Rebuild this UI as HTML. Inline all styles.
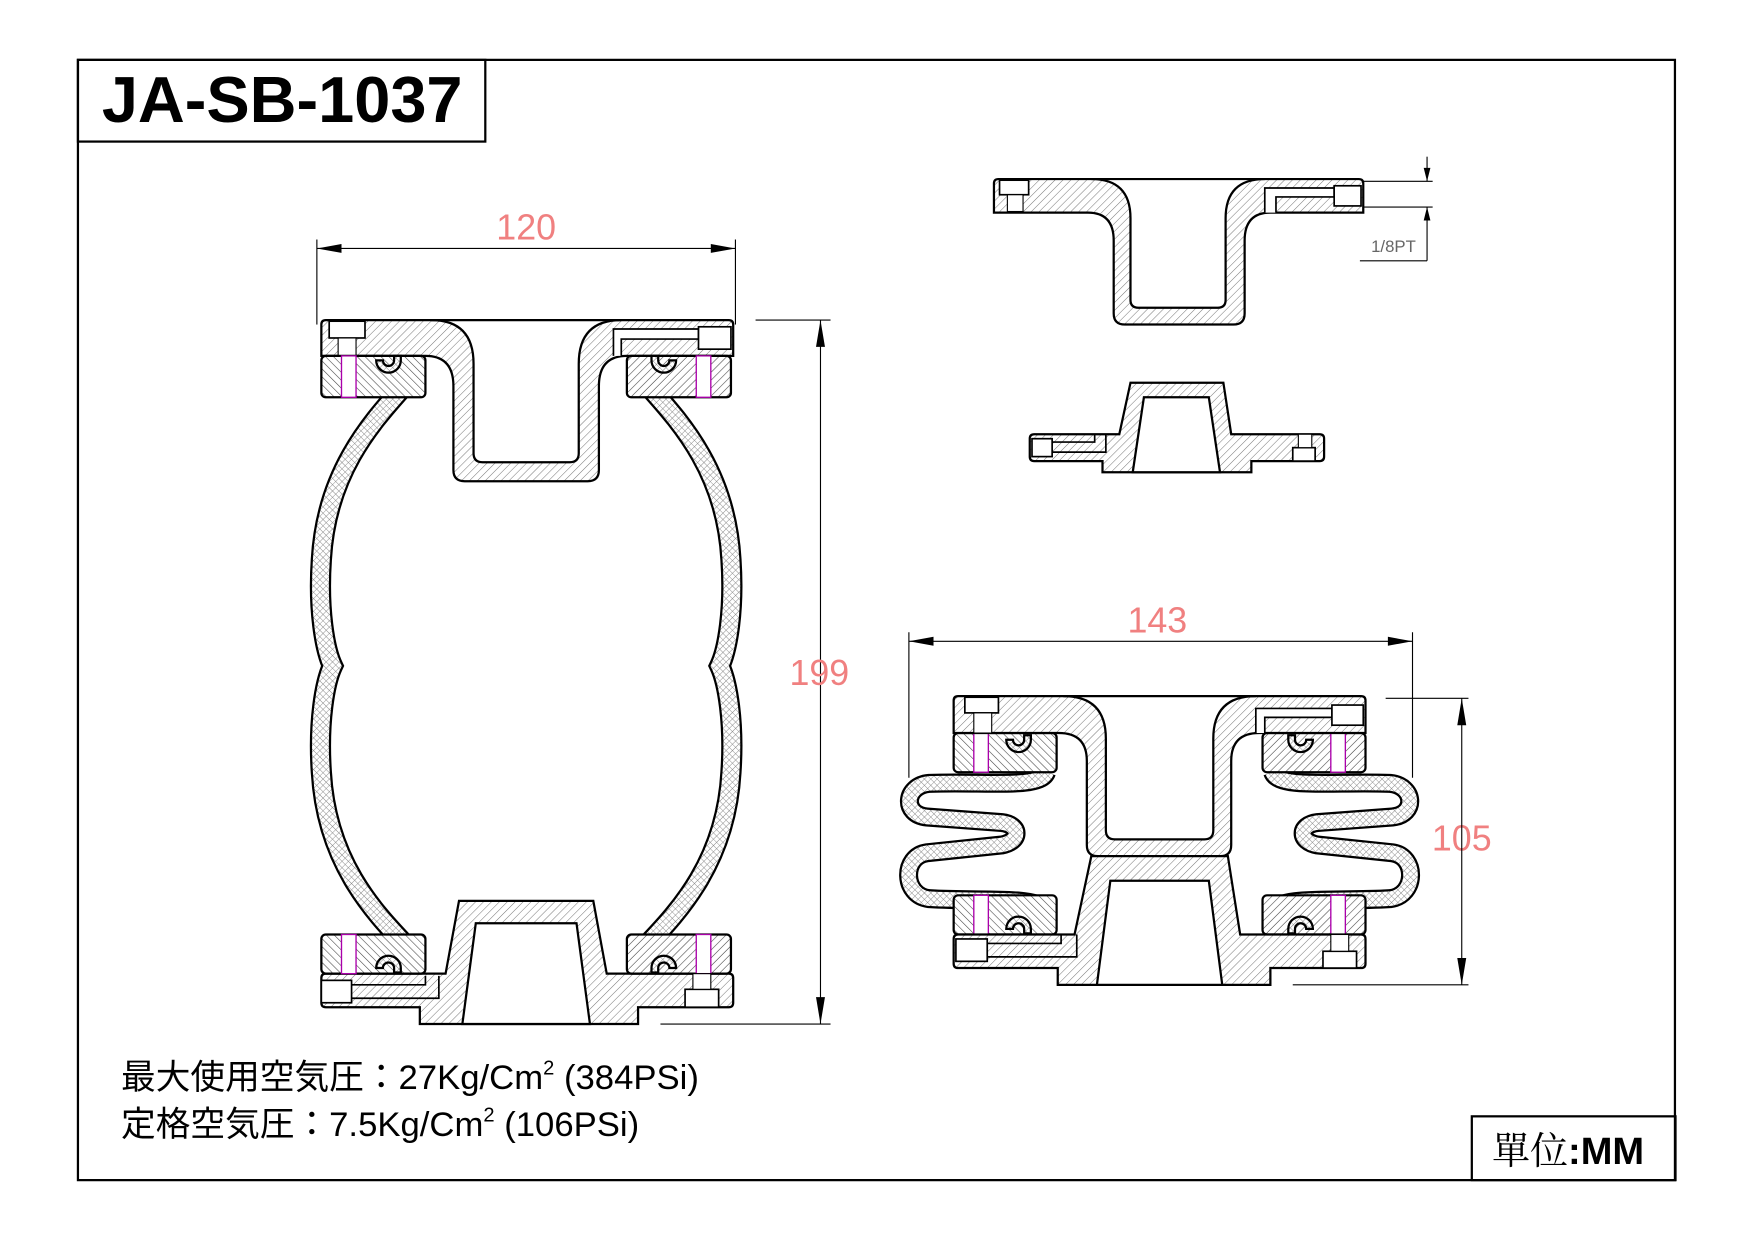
<!DOCTYPE html>
<html><head><meta charset="utf-8"><style>
html,body{margin:0;padding:0;background:#fff;}
svg{display:block;}
</style></head><body>
<svg width="1754" height="1240" viewBox="0 0 1567 1108" xmlns="http://www.w3.org/2000/svg">
<defs>
<pattern id="h" width="5" height="5" patternUnits="userSpaceOnUse" patternTransform="rotate(45)">
<rect width="5" height="5" fill="#fff"/><line x1="0" y1="0" x2="0" y2="5" stroke="#777" stroke-width="0.9"/></pattern>
<pattern id="h2" width="5" height="5" patternUnits="userSpaceOnUse" patternTransform="rotate(-45)">
<rect width="5" height="5" fill="#fff"/><line x1="0" y1="0" x2="0" y2="5" stroke="#444" stroke-width="1"/></pattern>
<pattern id="x" width="4" height="4" patternUnits="userSpaceOnUse" patternTransform="rotate(45)">
<rect width="4" height="4" fill="#fff"/><path d="M0 0V4M0 0H4" stroke="#888" stroke-width="0.8"/></pattern>

<g id="topL">
<rect x="287" y="318" width="93" height="37" rx="4" fill="url(#h2)" stroke="#000" stroke-width="2"/>
<rect x="305" y="318" width="13" height="37" fill="#fff" stroke="#a0a" stroke-width="1.2"/>
<path d="M336,322 a11,11 0 1 0 22,0 l0,-4 l-6,0 l0,4 a5,5 0 1 1 -10,0z" fill="url(#x)" stroke="#000" stroke-width="2"/>
</g>
<g id="botL">
<rect x="287" y="835" width="93" height="35" rx="4" fill="url(#h2)" stroke="#000" stroke-width="2"/>
<rect x="305" y="835" width="13" height="35" fill="#fff" stroke="#a0a" stroke-width="1.2"/>
<path d="M336,865 a11,11 0 1 1 22,0 l0,4 l-6,0 l0,-4 a5,5 0 1 0 -10,0z" fill="url(#x)" stroke="#000" stroke-width="2"/>
</g>
<path id="bellL" d="M372,332 C345,365 292,410 287,500 C284,545 290,580 297,595 C290,610 284,645 287,690 C292,780 345,825 372,855" fill="none"/>
</defs>

<rect x="69.5" y="53.5" width="1427" height="1001" fill="none" stroke="#000" stroke-width="2"/>
<rect x="69.5" y="53.5" width="364" height="73" fill="none" stroke="#000" stroke-width="2"/>
<text x="252" y="109" text-anchor="middle" font-family="Liberation Sans, sans-serif" font-weight="bold" font-size="58">JA-SB-1037</text>
<rect x="1315" y="997.5" width="182" height="57" fill="none" stroke="#000" stroke-width="2"/>
<text x="1333" y="1040" font-family="'Liberation Serif','Noto Serif CJK SC',serif" font-size="34">單位<tspan font-family="Liberation Sans, sans-serif" font-weight="bold">:MM</tspan></text>

<g font-family="'Liberation Sans','Noto Sans CJK JP',sans-serif" font-size="31" fill="#000">
<text x="108" y="973">最大使用空気圧：27Kg/Cm<tspan font-size="18" dy="-13">2</tspan><tspan dy="13"> (384PSi)</tspan></text>
<text x="108" y="1015">定格空気圧：7.5Kg/Cm<tspan font-size="18" dy="-13">2</tspan><tspan dy="13"> (106PSi)</tspan></text>
</g>

<g stroke="#000">
<line x1="283" y1="214" x2="283" y2="290" stroke-width="1"/>
<line x1="657" y1="214" x2="657" y2="290" stroke-width="1"/>
<line x1="283" y1="222" x2="657" y2="222" stroke-width="1"/>
<path d="M283,222 l22,-4 v8z M657,222 l-22,-4 v8z" fill="#000" stroke="none"/>
<line x1="675" y1="286" x2="742" y2="286" stroke-width="1"/>
<line x1="590" y1="915" x2="742" y2="915" stroke-width="1"/>
<line x1="733" y1="286" x2="733" y2="915" stroke-width="1"/>
<path d="M733,286 l-4,24 h8z M733,915 l-4,-24 h8z" fill="#000" stroke="none"/>
</g>
<g font-family="Liberation Sans, sans-serif" font-size="32" fill="#f08080">
<text x="470" y="214" text-anchor="middle">120</text>
<text x="732" y="612" text-anchor="middle">199</text>
<text x="1034" y="565" text-anchor="middle">143</text>
<text x="1306" y="760" text-anchor="middle">105</text>
</g>

<use href="#bellL" stroke="#000" stroke-width="19"/>
<use href="#bellL" stroke="url(#x)" stroke-width="15"/>
<g transform="translate(940,0) scale(-1,1)">
<use href="#bellL" stroke="#000" stroke-width="19"/>
<use href="#bellL" stroke="url(#x)" stroke-width="15"/>
</g>
<path d="M291,286 L385,286 Q423,286 423,325 L423,405 Q423,413 431,413 L509,413 Q517,413 517,405 L517,325 Q517,286 555,286 L651,286 Q655,286 655,290 L655,318 L560,318 Q535,318 535,345 L535,420 Q535,430 525,430 L415,430 Q405,430 405,420 L405,345 Q405,318 380,318 L287,318 L287,290 Q287,286 291,286 Z" fill="url(#h)" stroke="#000" stroke-width="2"/>
<line x1="385" y1="286" x2="555" y2="286" stroke="#000" stroke-width="2"/>
<rect x="294" y="287" width="32" height="15" fill="#fff" stroke="#000" stroke-width="1.5"/>
<rect x="302" y="302" width="16" height="16" fill="#fff" stroke="#000" stroke-width="1"/>
<path d="M548,318 V294 H624 V303 H555 V318" fill="#fff" stroke="#000" stroke-width="1.5"/>
<rect x="624" y="292" width="29" height="20" fill="#fff" stroke="#000" stroke-width="1.5"/>
<use href="#topL"/>
<g transform="translate(940,0) scale(-1,1)"><use href="#topL"/></g>
<path d="M410,805 L530,805 L542,870 L651,870 Q655,870 655,874 L655,896 Q655,900 651,900 L570,900 L570,915 L375,915 L375,900 L291,900 Q287,900 287,896 L287,874 Q287,870 291,870 L398,870 Z" fill="url(#h)" stroke="#000" stroke-width="2"/>
<path d="M425,825 L515,825 L527,915 L413,915 Z" fill="#fff" stroke="#000" stroke-width="2"/>
<use href="#botL"/>
<g transform="translate(940,0) scale(-1,1)"><use href="#botL"/></g>
<rect x="287" y="876" width="27" height="20" fill="#fff" stroke="#000" stroke-width="1.5"/>
<path d="M314,880 H380 V872 M314,892 H392 V872" fill="none" stroke="#000" stroke-width="1.5"/>
<rect x="612" y="884" width="30" height="16" fill="#fff" stroke="#000" stroke-width="1.5"/>
<rect x="619" y="870" width="16" height="14" fill="#fff" stroke="#000" stroke-width="1"/>

<path d="M892,160 L975,160 Q1010,160 1010,195 L1010,268 Q1010,275 1017,275 L1088,275 Q1095,275 1095,268 L1095,195 Q1095,160 1130,160 L1214,160 Q1218,160 1218,164 L1218,190 L1135,190 Q1112,190 1112,215 L1112,280 Q1112,290 1102,290 L1005,290 Q995,290 995,280 L995,215 Q995,190 972,190 L888,190 L888,164 Q888,160 892,160 Z" fill="url(#h)" stroke="#000" stroke-width="2"/>
<line x1="975" y1="160" x2="1130" y2="160" stroke="#000" stroke-width="2"/>
<rect x="893" y="161" width="26" height="13" fill="#fff" stroke="#000" stroke-width="1.5"/>
<rect x="900" y="174" width="14" height="15" fill="#fff" stroke="#000" stroke-width="1"/>
<path d="M1130,190 V168 H1192 V176 H1140 V190" fill="#fff" stroke="#000" stroke-width="1.5"/>
<rect x="1192" y="166" width="24" height="18" fill="#fff" stroke="#000" stroke-width="1.5"/>
<g stroke="#000" stroke-width="1">
<line x1="1218" y1="162" x2="1280" y2="162"/><line x1="1218" y1="185" x2="1280" y2="185"/>
<line x1="1275" y1="140" x2="1275" y2="162"/><line x1="1275" y1="185" x2="1275" y2="233"/>
<line x1="1215" y1="233" x2="1275" y2="233"/>
</g>
<path d="M1275,162 l-3,-12 h6z M1275,185 l-3,12 h6z" fill="#000"/>
<text x="1245" y="225" text-anchor="middle" font-family="Liberation Sans, sans-serif" font-size="15" fill="#666">1/8PT</text>

<path d="M1010,342 L1093,342 L1100,388 L1179,388 Q1183,388 1183,392 L1183,408 Q1183,412 1179,412 L1118,412 L1118,422 L985,422 L985,412 L924,412 Q920,412 920,408 L920,392 Q920,388 924,388 L1000,388 Z" fill="url(#h)" stroke="#000" stroke-width="2"/>
<path d="M1022,355 L1080,355 L1090,422 L1012,422 Z" fill="#fff" stroke="#000" stroke-width="2"/>
<rect x="922" y="392" width="18" height="16" fill="#fff" stroke="#000" stroke-width="1.5"/>
<path d="M940,395 H978 V388 M940,404 H988 V388" fill="none" stroke="#000" stroke-width="1.5"/>
<rect x="1155" y="400" width="20" height="12" fill="#fff" stroke="#000" stroke-width="1.5"/>
<rect x="1160" y="388" width="12" height="12" fill="#fff" stroke="#000" stroke-width="1"/>

<g stroke="#000">
<line x1="812" y1="565" x2="812" y2="695" stroke-width="1"/>
<line x1="1262" y1="565" x2="1262" y2="695" stroke-width="1"/>
<line x1="812" y1="573" x2="1262" y2="573" stroke-width="1"/>
<path d="M812,573 l22,-4 v8z M1262,573 l-22,-4 v8z" fill="#000" stroke="none"/>
<line x1="1238" y1="624" x2="1312" y2="624" stroke-width="1"/>
<line x1="1155" y1="880" x2="1312" y2="880" stroke-width="1"/>
<line x1="1306" y1="624" x2="1306" y2="880" stroke-width="1"/>
<path d="M1306,624 l-4,24 h8z M1306,880 l-4,-24 h8z" fill="#000" stroke="none"/>
</g>
<g id="convL">
<path d="M935,690 C930,705 880,698 830,700 C808,702 806,728 828,730 L895,735 C912,737 912,752 895,755 L828,762 C806,765 806,800 830,803 C880,806 930,800 935,815" fill="none" stroke="#000" stroke-width="17"/>
<path d="M935,690 C930,705 880,698 830,700 C808,702 806,728 828,730 L895,735 C912,737 912,752 895,755 L828,762 C806,765 806,800 830,803 C880,806 930,800 935,815" fill="none" stroke="url(#x)" stroke-width="13"/>
<rect x="852" y="655" width="92" height="35" rx="4" fill="url(#h2)" stroke="#000" stroke-width="2"/>
<rect x="870" y="655" width="13" height="35" fill="#fff" stroke="#a0a" stroke-width="1.2"/>
<path d="M899,661 a11,11 0 1 0 22,0 l0,-4 l-6,0 l0,4 a5,5 0 1 1 -10,0z" fill="url(#x)" stroke="#000" stroke-width="2"/>
<rect x="852" y="800" width="92" height="35" rx="4" fill="url(#h2)" stroke="#000" stroke-width="2"/>
<rect x="870" y="800" width="13" height="35" fill="#fff" stroke="#a0a" stroke-width="1.2"/>
<path d="M899,830 a11,11 0 1 1 22,0 l0,4 l-6,0 l0,-4 a5,5 0 1 0 -10,0z" fill="url(#x)" stroke="#000" stroke-width="2"/>
</g>
<g transform="translate(2072,0) scale(-1,1)"><use href="#convL"/></g>
<path d="M856,622 L950,622 Q988,622 988,660 L988,742 Q988,750 996,750 L1076,750 Q1084,750 1084,742 L1084,660 Q1084,622 1122,622 L1216,622 Q1220,622 1220,626 L1220,655 L1125,655 Q1100,655 1100,680 L1100,755 Q1100,765 1090,765 L981,765 Q971,765 971,755 L971,680 Q971,655 946,655 L852,655 L852,626 Q852,622 856,622 Z" fill="url(#h)" stroke="#000" stroke-width="2"/>
<line x1="950" y1="622" x2="1122" y2="622" stroke="#000" stroke-width="2"/>
<rect x="862" y="623" width="30" height="14" fill="#fff" stroke="#000" stroke-width="1.5"/>
<rect x="870" y="637" width="16" height="18" fill="#fff" stroke="#000" stroke-width="1"/>
<path d="M1122,655 V633 H1190 V641 H1130 V655" fill="#fff" stroke="#000" stroke-width="1.5"/>
<rect x="1190" y="630" width="28" height="18" fill="#fff" stroke="#000" stroke-width="1.5"/>
<path d="M975,765 L1097,765 L1108,835 L1216,835 Q1220,835 1220,839 L1220,861 Q1220,865 1216,865 L1135,865 L1135,880 L945,880 L945,865 L856,865 Q852,865 852,861 L852,839 Q852,835 856,835 L960,835 Z" fill="url(#h)" stroke="#000" stroke-width="2"/>
<path d="M992,787 L1080,787 L1092,880 L980,880 Z" fill="#fff" stroke="#000" stroke-width="2"/>
<rect x="854" y="839" width="28" height="20" fill="#fff" stroke="#000" stroke-width="1.5"/>
<path d="M882,843 H948 V835 M882,855 H962 V835" fill="none" stroke="#000" stroke-width="1.5"/>
<rect x="1182" y="850" width="30" height="15" fill="#fff" stroke="#000" stroke-width="1.5"/>
<rect x="1189" y="835" width="16" height="15" fill="#fff" stroke="#000" stroke-width="1"/>
</svg>
</body></html>
